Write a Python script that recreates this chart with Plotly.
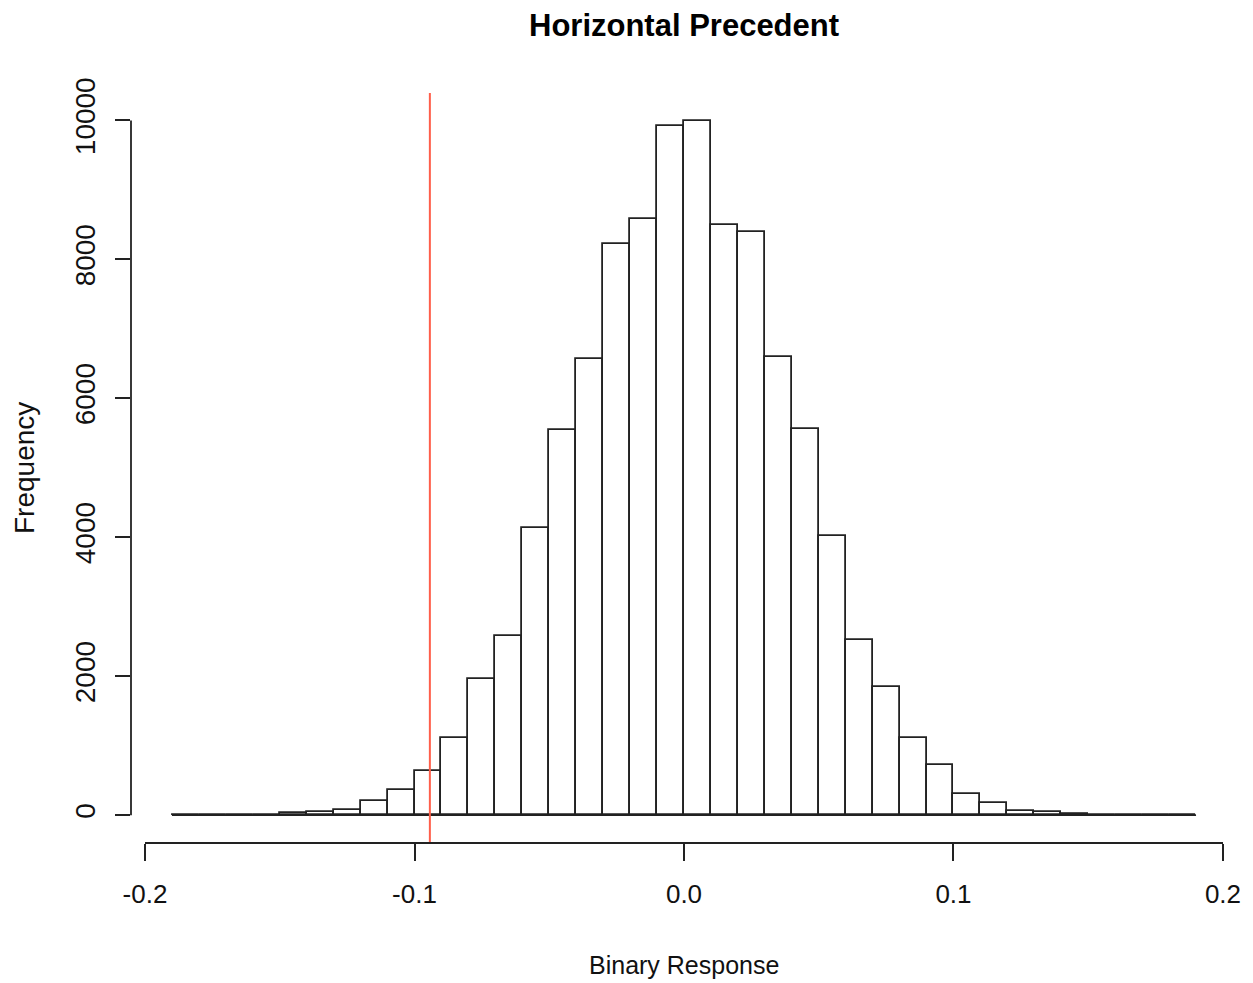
import plotly.graph_objects as go

# ---- data ----
bin_start = -0.19
bin_width = 0.01
counts = [0, 1, 2, 7,
          25, 50, 75, 200, 360, 640, 1115, 1955, 2580, 4127,
          5541, 6566, 8218, 8581, 9918, 9995, 8495, 8394, 6595, 5560,
          4012, 2521, 1847, 1107, 722, 307, 178, 68, 48, 20,
          6, 2, 1, 0]
observed = -0.0943
x_ticks = [-0.2, -0.1, 0.0, 0.1, 0.2]
x_tick_labels = ["-0.2", "-0.1", "0.0", "0.1", "0.2"]
y_ticks = [0, 2000, 4000, 6000, 8000, 10000]
y_tick_labels = ["0", "2000", "4000", "6000", "8000", "10000"]
title = "Horizontal Precedent"
x_title = "Binary Response"
y_title = "Frequency"

n = len(counts)
centers = [bin_start + bin_width * (i + 0.5) for i in range(n)]
edge_lo = bin_start
edge_hi = bin_start + bin_width * n

FONT = "Liberation Sans, Arial, sans-serif"
INK = "#222222"

fig = go.Figure()
# baseline of the histogram (spans all bins, including empty ones)
fig.add_trace(go.Scatter(x=[edge_lo, edge_hi], y=[0, 0], mode="lines",
                         line=dict(color=INK, width=1.8), hoverinfo="skip",
                         showlegend=False))
fig.add_trace(go.Bar(x=centers, y=counts, width=bin_width,
                     marker=dict(color="white", line=dict(color=INK, width=1.8)),
                     showlegend=False))

fig.add_vline(x=observed, line=dict(color="#FF5F4A", width=2))

# R-style detached axis lines
fig.add_shape(type="line", xref="x", yref="paper", x0=x_ticks[0], x1=x_ticks[-1],
              y0=0, y1=0, line=dict(color=INK, width=1.8))
fig.add_shape(type="line", xref="paper", yref="y", x0=0, x1=0,
              y0=y_ticks[0], y1=y_ticks[-1], line=dict(color=INK, width=1.8))

xr = (edge_hi - edge_lo) * 0.04
ymax = max(counts)
yr = ymax * 0.04

fig.update_layout(
    width=1253, height=983,
    paper_bgcolor="white", plot_bgcolor="white",
    margin=dict(l=131, r=16, t=93, b=140),
    bargap=0,
    font=dict(family=FONT, color="#111111"),
    xaxis=dict(range=[edge_lo - xr, edge_hi + xr], showgrid=False, zeroline=False,
               showline=False, tickvals=x_ticks, ticktext=x_tick_labels,
               ticks="outside", ticklen=17, tickwidth=1.8, tickcolor=INK,
               tickfont=dict(size=26, family=FONT, color="#111111"),
               ticklabelstandoff=11),
    yaxis=dict(range=[-yr, ymax + yr], showgrid=False, zeroline=False,
               showline=False, tickvals=y_ticks, ticktext=y_tick_labels,
               ticks="outside", ticklen=15, tickwidth=1.8, tickcolor=INK,
               tickangle=-90,
               tickfont=dict(size=28, family=FONT, color="#111111"),
               ticklabelstandoff=9),
    annotations=[
        dict(text="<b>" + title + "</b>", xref="paper", yref="paper",
             x=0.5, y=1, yshift=68, xanchor="center", yanchor="middle",
             showarrow=False, font=dict(size=31, family=FONT, color="#000000")),
        dict(text=x_title, xref="paper", yref="paper",
             x=0.5, y=0, yshift=-122, xanchor="center", yanchor="middle",
             showarrow=False, font=dict(size=25, family=FONT, color="#111111")),
        dict(text=y_title, xref="paper", yref="paper", textangle=-90,
             x=0, y=0.5, xshift=-107, xanchor="center", yanchor="middle",
             showarrow=False, font=dict(size=28, family=FONT, color="#111111")),
    ],
)

fig.write_html("out.html")
